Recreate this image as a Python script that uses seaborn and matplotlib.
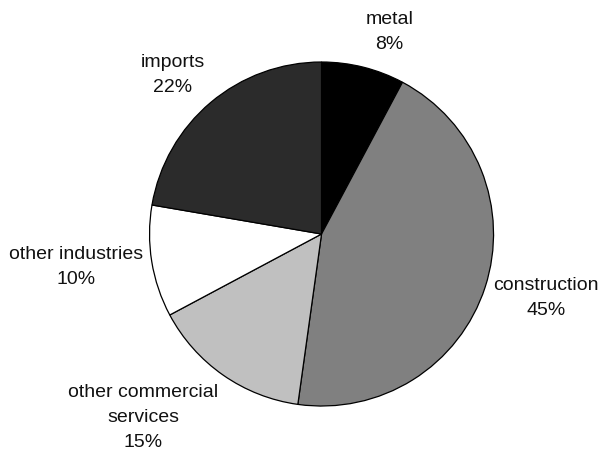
import numpy as np
import matplotlib
matplotlib.use("Agg")
import matplotlib.pyplot as plt
import seaborn as sns

categories = ['metal', 'construction', 'other commercial\nservices',
              'other industries', 'imports']
# slice sizes as measured from the wedge angles
shares = [7.8, 44.4, 15.0, 10.5, 22.3]
# percentages as printed on the chart
pct_labels = ['8%', '45%', '15%', '10%', '22%']
colors = ['#000000', '#808080', '#c0c0c0', '#ffffff', '#2b2b2b']

sns.set_theme(style="white")
plt.rcParams['font.family'] = ['Liberation Sans', 'DejaVu Sans']

fig = plt.figure(figsize=(6.01, 4.53), dpi=100)
# pie centre at about (321, 234) px, radius 172 px
ax = fig.add_axes([0.535 - 0.2862, 0.4834 - 0.3797, 0.5724, 0.7594])
wedges, _ = ax.pie(shares, colors=colors, startangle=90, counterclock=False,
                   wedgeprops=dict(edgecolor='black', linewidth=0.9))
ax.set_xlim(-1, 1)
ax.set_ylim(-1, 1)
ax.set_aspect('equal')
for w in wedges:
    w.set_clip_on(False)

texts = []
for cat, pct in zip(categories, pct_labels):
    t = ax.text(0, 0, f"{cat}\n{pct}", ha='center', va='center',
                fontsize=14, linespacing=1.62, multialignment='center',
                color='#111111')
    texts.append(t)

# anchor each label just outside the rim on its wedge's mid angle,
# left/right aligned by side and shifted vertically by the sine
fig.canvas.draw()
renderer = fig.canvas.get_renderer()
px = ax.transData.transform((1, 0))[0] - ax.transData.transform((0, 0))[0]
dist = 1.05
for w, t in zip(wedges, texts):
    ang = np.deg2rad((w.theta1 + w.theta2) / 2)
    ux, uy = np.cos(ang), np.sin(ang)
    bb = t.get_window_extent(renderer)
    h = bb.height / px * 1.3
    t.set_ha('left' if ux > 0 else 'right')
    t.set_position((dist * ux, dist * uy + uy * h / 2))

fig.savefig('out.png', dpi=100)
plt.close(fig)
